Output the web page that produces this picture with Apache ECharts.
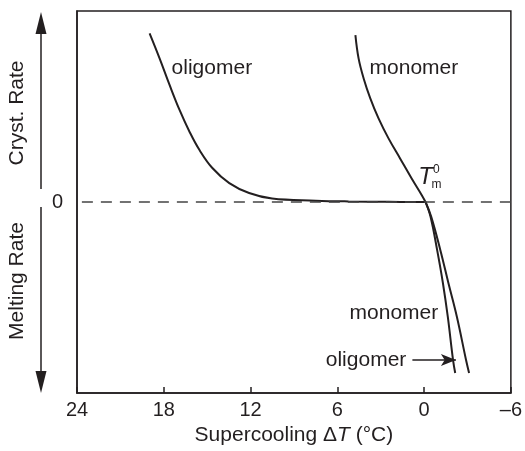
<!DOCTYPE html>
<html>
<head>
<meta charset="utf-8">
<script src="https://cdn.jsdelivr.net/npm/echarts@6/dist/echarts.min.js"></script>
<style>
  html, body { margin: 0; padding: 0; background: #fff; }
  #chart { width: 525px; height: 451px; }
</style>
</head>
<body>
<div id="chart"></div>
<script>
// 数据 (x: supercooling ΔT in °C, y: relative rate)
const xTicks = [24, 18, 12, 6, 0, -6]
const oligomerCryst = [[18.98, 0.883], [18.29, 0.752], [17.6, 0.613], [16.91, 0.482], [16.22, 0.368],
  [15.53, 0.272], [14.64, 0.178], [13.47, 0.099], [12.1, 0.047], [10.51, 0.018], [7.49, 0.007],
  [5.22, 0.003], [2.46, 0.001], [-0.1, 0]]
const monomerCryst = [[4.75, 0.874], [4.53, 0.752], [4.18, 0.647], [3.72, 0.543], [3.15, 0.438],
  [2.46, 0.333], [1.66, 0.228], [0.86, 0.123], [0.17, 0.037], [-0.1, 0]]
const monomerMelt = [[-0.1, 0], [-0.45, -0.079], [-0.9, -0.251], [-1.3, -0.424], [-1.64, -0.602],
  [-2.0, -0.827], [-2.15, -0.895]]
const oligomerMelt = [[-0.1, 0], [-0.5, -0.079], [-1.12, -0.251], [-1.68, -0.424], [-2.27, -0.602],
  [-2.9, -0.827], [-3.11, -0.895]]

const ink = '#231f20'
const font = "'Liberation Sans', Arial, sans-serif"

let chart = echarts.init(document.getElementById('chart'), null, { renderer: 'canvas' })

function curve (name, data) {
  return {
    name: name,
    type: 'line',
    data: data,
    smooth: 0.4,
    showSymbol: false,
    lineStyle: { color: ink, width: 2 },
    silent: true,
    z: 3
  }
}

// 曲线旁的文字标注
function tag (coord, text, align, size, italic) {
  return {
    coord: coord,
    symbol: 'circle',
    symbolSize: 0,
    label: {
      show: true,
      position: [0, 0],
      formatter: text,
      align: align,
      verticalAlign: 'middle',
      color: ink,
      fontFamily: font,
      fontSize: size,
      fontStyle: italic ? 'italic' : 'normal'
    }
  }
}

let labelSeries = curve('oligomer-cryst', oligomerCryst)
labelSeries.markPoint = {
  silent: true,
  data: [
    tag([17.46, 0.70], 'oligomer', 'left', 21),
    tag([3.77, 0.70], 'monomer', 'left', 21),
    tag([-0.98, -0.58], 'monomer', 'right', 21),
    tag([1.23, -0.827], 'oligomer', 'right', 21),
    tag([-0.1, 0.131], 'T', 'center', 24, true),
    tag([-0.62, 0.168], '0', 'left', 12),
    tag([-0.52, 0.09], 'm', 'left', 12)
  ]
}
labelSeries.markLine = {
  silent: true,
  animation: false,
  symbol: ['none', 'none'],
  data: [
    [{ coord: [0.81, -0.827], symbol: 'none' }, { coord: [-2.2, -0.827], symbol: 'arrow', symbolSize: [9, 15] }],
    { yAxis: 0, lineStyle: { type: [11, 8], color: '#444', width: 1.5 } }
  ],
  lineStyle: { color: ink, width: 1.5, type: 'solid' },
  label: { show: false }
}

let option = {
  animation: false,
  textStyle: { fontFamily: font },
  grid: {
    left: 77,
    right: 12,
    top: 11,
    bottom: 57,
    show: true,
    borderColor: ink,
    borderWidth: 1.5
  },
  xAxis: {
    type: 'value',
    inverse: true,
    min: -6,
    max: 24,
    interval: 6,
    name: '{a|Supercooling Δ}{i|T}{a| (°C)}',
    nameLocation: 'middle',
    nameGap: 32,
    nameTextStyle: {
      rich: {
        a: { fontSize: 21, color: ink, fontFamily: font },
        i: { fontSize: 21, color: ink, fontFamily: font, fontStyle: 'italic' }
      }
    },
    axisLine: { show: true, onZero: false, lineStyle: { color: ink, width: 1.5 } },
    axisTick: { show: true, inside: true, length: 6, lineStyle: { color: ink, width: 1.5 } },
    axisLabel: {
      margin: 7,
      fontSize: 20,
      color: ink,
      fontFamily: font,
      formatter: function (v) {
        return xTicks.indexOf(v) < 0 ? '' : (v < 0 ? '–' + (-v) : String(v))
      }
    },
    splitLine: { show: false }
  },
  yAxis: {
    type: 'value',
    min: -1,
    max: 1,
    interval: 1,
    axisLine: { show: true, onZero: false, lineStyle: { color: ink, width: 1.5 } },
    axisTick: { show: false },
    axisLabel: {
      margin: 14,
      fontSize: 20,
      color: ink,
      fontFamily: font,
      formatter: function (v) { return v === 0 ? '0' : '' }
    },
    splitLine: { show: false }
  },
  // 左侧的箭头和竖排文字
  graphic: [
    { type: 'line', shape: { x1: 41, y1: 30, x2: 41, y2: 189 }, style: { stroke: ink, lineWidth: 1.5 } },
    { type: 'polygon', shape: { points: [[41, 12], [35.5, 34], [46.5, 34]] }, style: { fill: ink } },
    { type: 'line', shape: { x1: 41, y1: 207, x2: 41, y2: 375 }, style: { stroke: ink, lineWidth: 1.5 } },
    { type: 'polygon', shape: { points: [[41, 393], [35.5, 371], [46.5, 371]] }, style: { fill: ink } },
    {
      type: 'text', x: 17, y: 113, rotation: Math.PI / 2,
      style: { text: 'Cryst. Rate', fill: ink, font: '21px ' + font, align: 'center', verticalAlign: 'middle' }
    },
    {
      type: 'text', x: 17, y: 281, rotation: Math.PI / 2,
      style: { text: 'Melting Rate', fill: ink, font: '21px ' + font, align: 'center', verticalAlign: 'middle' }
    }
  ],
  series: [
    labelSeries,
    curve('monomer-cryst', monomerCryst),
    curve('monomer-melt', monomerMelt),
    curve('oligomer-melt', oligomerMelt)
  ]
}
chart.setOption(option)
</script>
</body>
</html>
